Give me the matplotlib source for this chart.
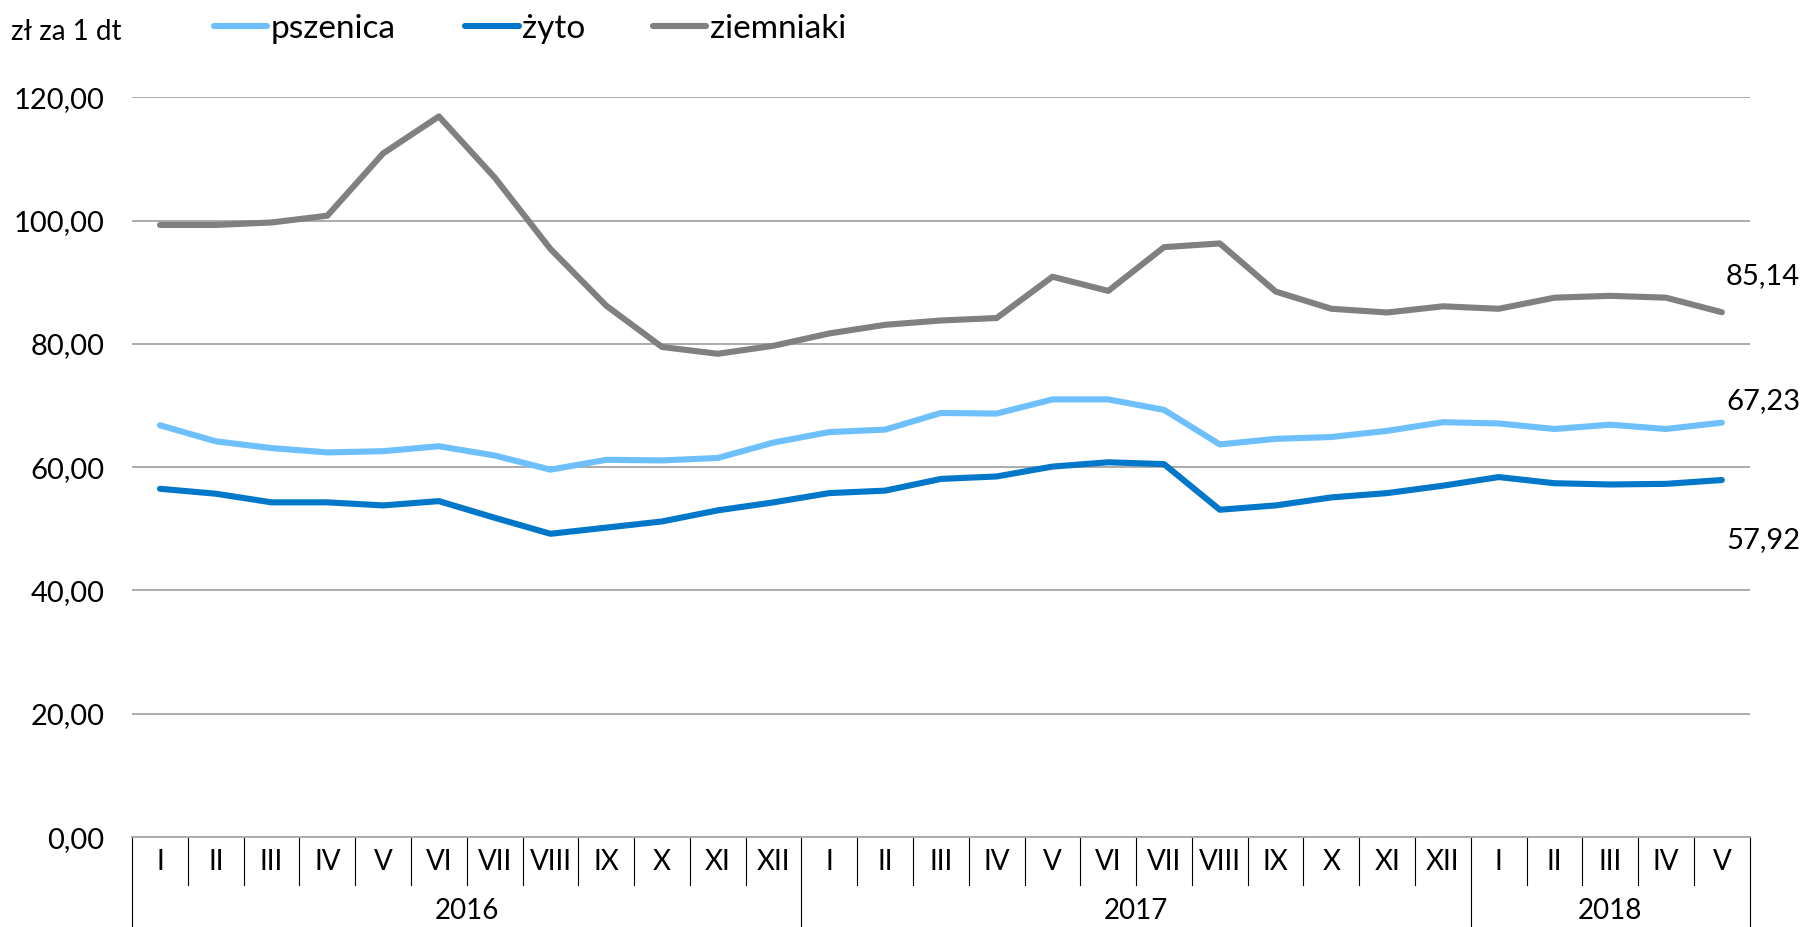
import numpy as np
import matplotlib
matplotlib.use('Agg')
import matplotlib.pyplot as plt

plt.rcParams['font.family'] = ['Lato', 'DejaVu Sans']

# data
months = ['I', 'II', 'III', 'IV', 'V', 'VI', 'VII', 'VIII', 'IX', 'X', 'XI', 'XII',
          'I', 'II', 'III', 'IV', 'V', 'VI', 'VII', 'VIII', 'IX', 'X', 'XI', 'XII',
          'I', 'II', 'III', 'IV', 'V']
years = ['2016', '2017', '2018']
year_len = [12, 12, 5]

pszenica = [66.8, 64.2, 63.1, 62.4, 62.6, 63.4, 61.9, 59.6, 61.2, 61.1, 61.5, 64.0,
            65.7, 66.1, 68.8, 68.7, 71.0, 71.0, 69.3, 63.7, 64.6, 64.9, 65.9, 67.3,
            67.1, 66.2, 66.9, 66.2, 67.23]
zyto = [56.5, 55.7, 54.3, 54.3, 53.8, 54.5, 51.8, 49.2, 50.2, 51.2, 53.0, 54.3,
        55.8, 56.2, 58.1, 58.5, 60.1, 60.8, 60.5, 53.1, 53.8, 55.1, 55.8, 57.0,
        58.4, 57.4, 57.2, 57.3, 57.92]
ziemniaki = [99.3, 99.3, 99.7, 100.8, 110.9, 116.9, 107.0, 95.4, 86.2, 79.5, 78.4, 79.7,
             81.7, 83.1, 83.8, 84.2, 90.9, 88.6, 95.7, 96.3, 88.5, 85.7, 85.1, 86.1,
             85.7, 87.5, 87.8, 87.5, 85.14]

col_psz = '#6DC0FC'
col_zyto = '#0077C8'
col_ziem = '#808080'

fig = plt.figure(figsize=(18.02, 9.27), dpi=100)
ax = fig.add_axes([0.0733, 0.097, 0.8977, 0.798])

x = np.arange(len(months))
lw = 4.4
l1, = ax.plot(x, pszenica, color=col_psz, lw=lw, solid_capstyle='round', label='pszenica')
l2, = ax.plot(x, zyto, color=col_zyto, lw=lw, solid_capstyle='round', label='żyto')
l3, = ax.plot(x, ziemniaki, color=col_ziem, lw=lw, solid_capstyle='round', label='ziemniaki')

ax.set_xlim(-0.5, len(months) - 0.5)
ax.set_ylim(0, 120)
yt = np.arange(0, 121, 20)
ax.set_yticks(yt)
ax.set_yticklabels([f'{v:.2f}'.replace('.', ',') for v in yt], fontsize=21)
ax.yaxis.grid(True, color='#ababab', lw=1.4)
ax.set_axisbelow(True)
for s in ['top', 'right', 'left']:
    ax.spines[s].set_visible(False)
ax.spines['bottom'].set_color('#ababab')
ax.spines['bottom'].set_linewidth(1.4)
ax.tick_params(axis='y', length=0, pad=20)
ax.set_xticks([])

# category axis: months and years
trans = ax.get_xaxis_transform()
for i, m in enumerate(months):
    ax.text(i, -0.034, m, transform=trans, ha='center', va='center', fontsize=20)
edges = np.arange(len(months) + 1) - 0.5
year_edges = np.concatenate([[0], np.cumsum(year_len)]) - 0.5
for e in edges:
    bottom = -0.122 if e in year_edges else -0.065
    ax.plot([e, e], [0, bottom], transform=trans, color='black', lw=0.8, clip_on=False)
start = 0
for y, n in zip(years, year_len):
    ax.text(start + n / 2 - 0.5, -0.1, y, transform=trans, ha='center', va='center', fontsize=20)
    start += n

# end labels
for val, dy in [(ziemniaki[-1], 36), (pszenica[-1], 22), (zyto[-1], -60)]:
    ax.annotate(f'{val:.2f}'.replace('.', ','), xy=(0.999, val),
                xycoords=('figure fraction', 'data'), xytext=(0, dy),
                textcoords='offset pixels', ha='right', va='center', fontsize=21)

fig.text(0.006, 0.965, 'zł za 1 dt', ha='left', va='center', fontsize=20)

# legend entries placed one by one
for line, xpos in [(l1, 0.1187), (l2, 0.2583), (l3, 0.3623)]:
    fig.legend([line], [line.get_label()], loc='center left', bbox_to_anchor=(xpos, 0.969),
               frameon=False, fontsize=24, handlelength=1.6, handletextpad=0.1,
               borderpad=0, borderaxespad=0)

fig.savefig('out.png', dpi=100)
